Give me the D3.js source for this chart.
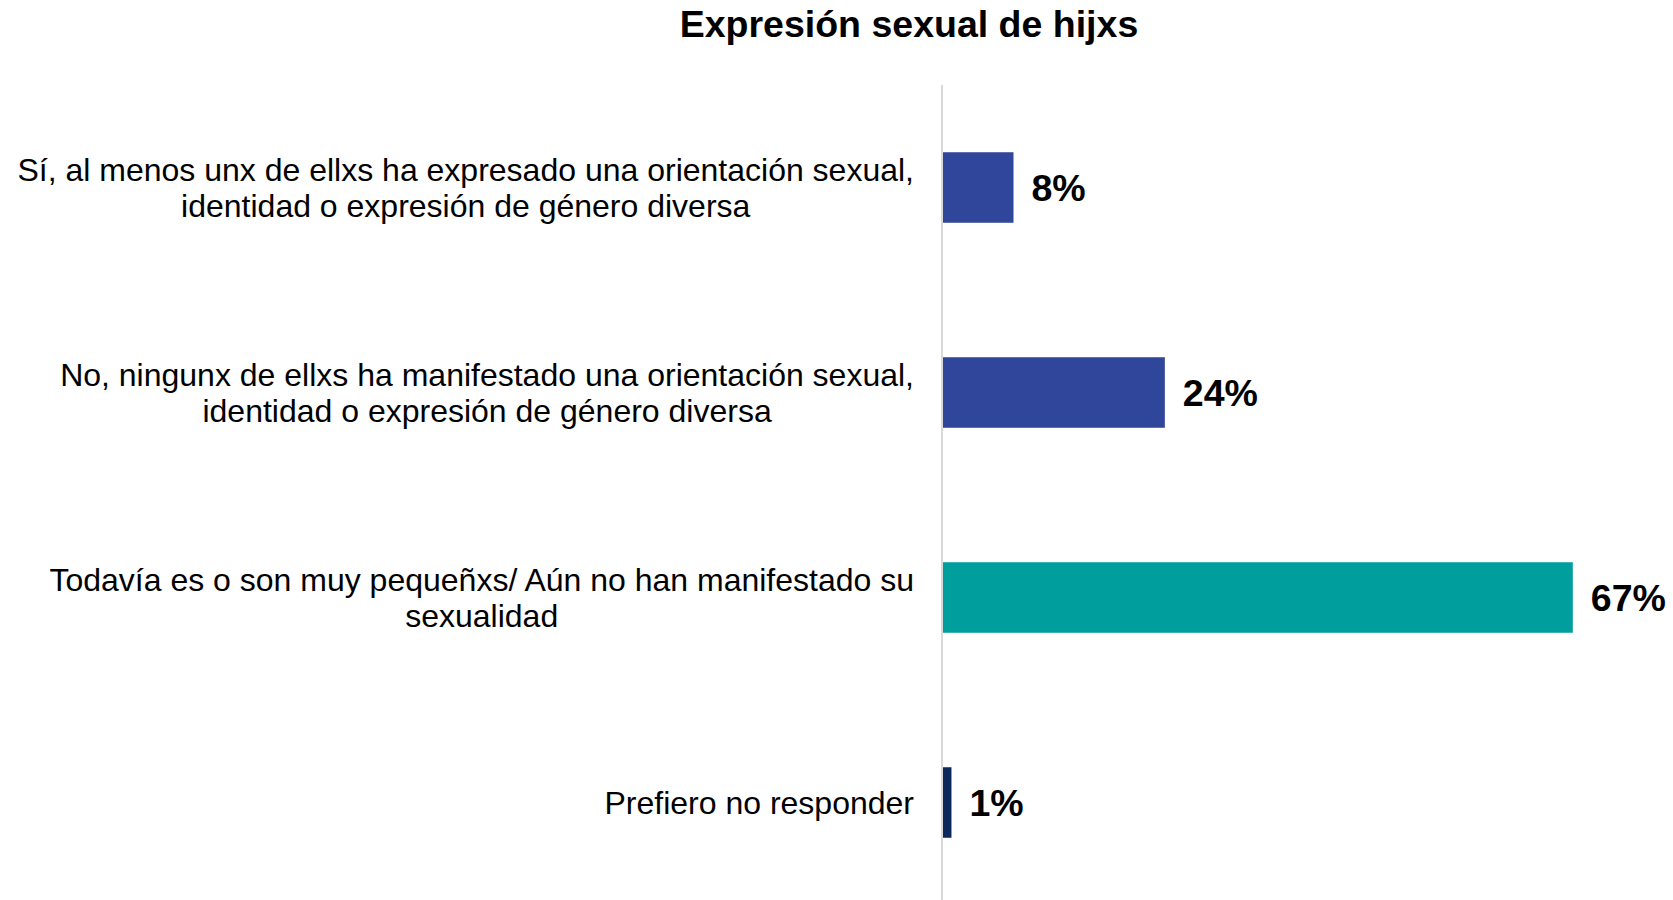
<!DOCTYPE html>
<html>
<head>
<meta charset="utf-8">
<script src="https://cdn.jsdelivr.net/npm/d3@7"></script>
<style>
  body { margin: 0; background: #fff; }
  text { font-family: "Liberation Sans", Arial, sans-serif; }
</style>
</head>
<body>
<div id="chart"></div>
<script>
// data
var title = "Expresión sexual de hijxs";
var categories = [
    "Sí, al menos unx de ellxs ha expresado una orientación sexual,\nidentidad o expresión de género diversa",
    "No, ningunx de ellxs ha manifestado una orientación sexual,\nidentidad o expresión de género diversa",
    "Todavía es o son muy pequeñxs/ Aún no han manifestado su\nsexualidad",
    "Prefiero no responder"
];
var values = [7.5, 23.6, 67, 0.9];
var valueLabels = ["8%", "24%", "67%", "1%"];
var barColors = ["#30469a", "#30469a", "#009e9c", "#0b2a5b"];

//Chart set up
var svgWidth = 1673;
var svgHeight = 900;
var x0 = 943;
var pxPerPoint = 9.4;

var svg = d3.select("#chart")
    .append("svg")
    .attr("width", svgWidth)
    .attr("height", svgHeight);

//scales
var xScale = d3.scaleLinear()
    .domain([0, 67])
    .range([x0, x0 + 67 * pxPerPoint]);

var yScale = d3.scaleBand()
    .domain(categories)
    .range([85, 905])
    .paddingInner(0.656)
    .paddingOuter(0.328);

//title
svg.append("text")
    .attr("x", 909)
    .attr("y", 37)
    .attr("text-anchor", "middle")
    .attr("font-weight", "bold")
    .attr("font-size", 37.5)
    .attr("fill", "#000")
    .text(title);

//bars
svg.selectAll("rect.bar")
    .data(values)
    .enter()
    .append("rect")
    .attr("class", "bar")
    .attr("x", xScale(0))
    .attr("y", (d, i) => yScale(categories[i]))
    .attr("width", d => xScale(d) - xScale(0))
    .attr("height", yScale.bandwidth())
    .attr("fill", (d, i) => barColors[i]);

//vertical axis line
svg.append("line")
    .attr("x1", xScale(0) - 1)
    .attr("x2", xScale(0) - 1)
    .attr("y1", 85)
    .attr("y2", svgHeight)
    .attr("stroke", "#d9d9d9")
    .attr("stroke-width", 2);

//value labels
svg.selectAll("text.value")
    .data(values)
    .enter()
    .append("text")
    .attr("class", "value")
    .attr("x", d => xScale(d) + 18)
    .attr("y", (d, i) => yScale(categories[i]) + yScale.bandwidth() / 2)
    .attr("dy", "0.36em")
    .attr("font-weight", "bold")
    .attr("font-size", 37.5)
    .attr("fill", "#000")
    .text((d, i) => valueLabels[i]);

//category labels: block right aligned, lines centred inside the block
var labelRight = 914;
var lineHeight = 36;
categories.forEach(function (cat) {
    var lines = cat.split("\n");
    var cy = yScale(cat) + yScale.bandwidth() / 2;
    var g = svg.append("g");
    var texts = lines.map(function (line, j) {
        return g.append("text")
            .attr("y", cy + (j - (lines.length - 1) / 2) * lineHeight)
            .attr("dy", "0.36em")
            .attr("text-anchor", "middle")
            .attr("font-size", 32)
            .attr("fill", "#000")
            .text(line);
    });
    var maxW = d3.max(texts, t => t.node().getComputedTextLength());
    texts.forEach(t => t.attr("x", labelRight - maxW / 2));
});
</script>
</body>
</html>
